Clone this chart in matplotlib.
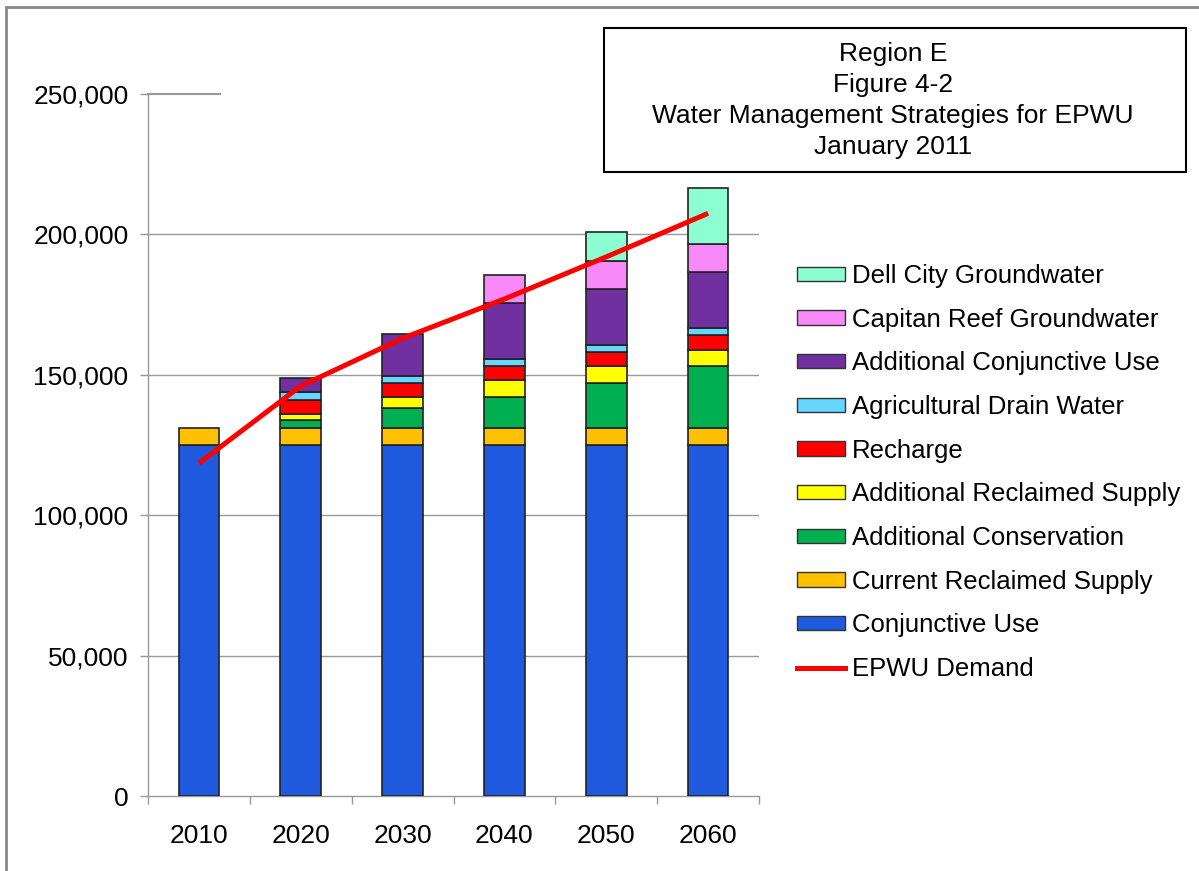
import matplotlib
matplotlib.use("Agg")
import matplotlib.pyplot as plt
import numpy as np
from matplotlib.patches import Rectangle, Patch
from matplotlib.lines import Line2D
from matplotlib.ticker import FuncFormatter, FixedLocator

plt.rcParams['font.family'] = ['Liberation Sans', 'DejaVu Sans']

years = ['2010', '2020', '2030', '2040', '2050', '2060']
conjunctive_use = [125000, 125000, 125000, 125000, 125000, 125000]
current_reclaimed = [6000, 6000, 6000, 6000, 6000, 6000]
additional_conservation = [0, 3000, 7000, 11000, 16000, 22000]
additional_reclaimed = [0, 2000, 4000, 6000, 6000, 6000]
recharge = [0, 5000, 5000, 5000, 5000, 5000]
agricultural_drain = [0, 2700, 2700, 2700, 2700, 2700]
additional_conjunctive = [0, 5000, 15000, 20000, 20000, 20000]
capitan_reef = [0, 0, 0, 10000, 10000, 10000]
dell_city = [0, 0, 0, 0, 10000, 20000]
epwu_demand = [118500, 146000, 163000, 177000, 192000, 207500]
yticks = [0, 50000, 100000, 150000, 200000, 250000]

series = [
    ('Conjunctive Use', conjunctive_use, '#1F5ADE'),
    ('Current Reclaimed Supply', current_reclaimed, '#FFC000'),
    ('Additional Conservation', additional_conservation, '#00B050'),
    ('Additional Reclaimed Supply', additional_reclaimed, '#FFFF00'),
    ('Recharge', recharge, '#FF0000'),
    ('Agricultural Drain Water', agricultural_drain, '#66D5FF'),
    ('Additional Conjunctive Use', additional_conjunctive, '#7030A0'),
    ('Capitan Reef Groundwater', capitan_reef, '#F78AF8'),
    ('Dell City Groundwater', dell_city, '#8CFFD2'),
]

W, H = 1199, 871
fig = plt.figure(figsize=(W / 100, H / 100), dpi=100)
ax = fig.add_axes([148 / W, (H - 796) / H, (759 - 148) / W, (796 - 94) / H])

x = np.arange(len(years))
bottom = np.zeros(len(years))
handles = []
for name, vals, col in series:
    v = np.array(vals, dtype=float)
    lws = [1.2 if val > 0 else 0 for val in v]
    ax.bar(x, v, 0.4, bottom=bottom, color=col, edgecolor='#222222',
           linewidth=lws, zorder=3)
    bottom += v
    handles.append(Patch(facecolor=col, edgecolor='#333333', linewidth=1.0, label=name))

ax.plot(x, epwu_demand, color='#FF0000', lw=3.6, zorder=4, solid_capstyle='butt')

ax.set_xlim(-0.5, len(years) - 0.5)
ax.set_ylim(0, 250000)
ax.yaxis.set_major_locator(FixedLocator(yticks))
ax.yaxis.set_major_formatter(FuncFormatter(lambda v, p: f"{int(v):,}"))
ax.set_xticks(x)
ax.set_xticklabels(years)
ax.set_xticks(np.arange(-0.5, len(years)), minor=True)
ax.tick_params(axis='x', which='major', length=0, pad=20, labelsize=19)
ax.tick_params(axis='x', which='minor', length=6, width=1, color='#999999', direction='out')
ax.tick_params(axis='y', length=6, width=1, color='#999999', pad=8, labelsize=19)

for t in yticks[1:-1]:
    ax.axhline(t, color='#999999', lw=1, zorder=1)
ax.axhline(250000, xmin=0, xmax=(220 - 148) / (759 - 148), color='#999999', lw=1.5, zorder=1, clip_on=False)

for s in ['top', 'right']:
    ax.spines[s].set_visible(False)
for s in ['left', 'bottom']:
    ax.spines[s].set_color('#999999')
    ax.spines[s].set_linewidth(1)

# legend
leg_handles = handles[::-1] + [Line2D([0], [0], color='#FF0000', lw=3.6)]
leg_labels = [h.get_label() for h in handles[::-1]] + ['EPWU Demand']
fig.legend(leg_handles, leg_labels, loc='upper left',
           bbox_to_anchor=(797 / W, 1 - 264 / H), frameon=False,
           fontsize=18.5, handlelength=1.87, handleheight=0.47,
           handletextpad=0.27, labelspacing=0.765, borderpad=0, borderaxespad=0)

# title box
fig.patches.append(Rectangle((604 / W, 1 - 172 / H), (1186 - 604) / W, (172 - 28) / H,
                             transform=fig.transFigure, fill=False,
                             edgecolor='black', lw=1.5))
title_lines = ['Region E', 'Figure 4-2', 'Water Management Strategies for EPWU', 'January 2011']
for i, line in enumerate(title_lines):
    fig.text(893 / W, 1 - (54 + i * 31) / H, line, ha='center', va='center', fontsize=19)

# outer frame
fig.patches.append(Rectangle((6 / W, -0.2), 1.3, 1.2 - 7 / H + 0.0,
                             transform=fig.transFigure, fill=False,
                             edgecolor='#888888', lw=2, clip_on=True))

fig.savefig('out.png', dpi=100)
